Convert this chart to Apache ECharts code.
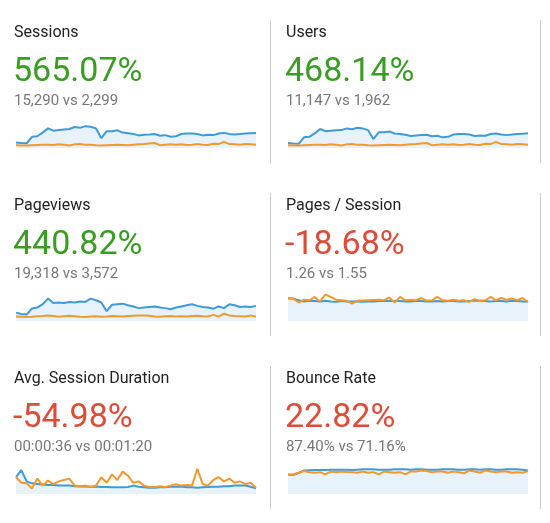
<!DOCTYPE html>
<html><head><meta charset="utf-8">
<script src="https://cdn.jsdelivr.net/npm/echarts@6/dist/echarts.min.js"></script>
<style>html,body{margin:0;padding:0;background:#fff}#c{width:550px;height:523px}</style>
</head><body><div id="c"></div>
<script>
const metricNames = ["Sessions","Users","Pageviews","Pages / Session","Avg. Session Duration","Bounce Rate"];
const changes = ["565.07%","468.14%","440.82%","-18.68%","-54.98%","22.82%"];
const comparisons = ["15,290 vs 2,299","11,147 vs 1,962","19,318 vs 3,572","1.26 vs 1.55","00:00:36 vs 00:01:20","87.40% vs 71.16%"];
const sessionsCur = [20,18,17,40,42,55,70,62,64,66,68,75,72,78,76,70,35,60,60,63,55,53,50,45,47,48,50,44,46,40,42,50,52,52,50,45,47,46,52,54,50,48,50,52,53,54];
const sessionsPrev = [10,9,9,10,11,12,12,11,13,12,9,13,14,12,12,10,9,10,11,12,11,10,12,13,14,16,18,10,12,13,12,13,11,12,14,12,11,15,14,22,14,13,12,14,13,12];
const usersCur = [18,16,15,38,40,52,68,60,62,63,64,70,67,72,70,64,32,56,56,59,52,50,47,43,45,46,47,42,44,38,40,48,50,50,48,43,45,44,50,52,48,46,48,50,51,53];
const usersPrev = [10,9,9,10,11,12,12,11,13,12,9,13,14,12,12,10,9,10,11,12,11,10,12,13,14,16,18,10,12,13,12,13,11,12,14,12,11,15,14,22,14,13,12,14,13,12];
const pageviewsCur = [30,25,23,45,48,60,80,64,66,64,68,66,70,68,80,74,66,35,58,60,62,56,52,46,48,50,52,48,46,42,48,52,56,60,54,50,48,44,52,46,60,56,50,52,50,54];
const pageviewsPrev = [16,15,14,15,17,18,20,18,15,17,19,17,15,14,16,17,15,16,18,17,16,18,19,20,20,19,16,15,17,18,16,17,16,18,19,17,16,22,16,26,20,18,17,16,20,15];
const ppsCur = [80,80,74,70,72,71,70,72,70,69,71,70,70,70,69,70,70,71,71,72,71,71,70,70,71,71,70,70,71,70,71,71,70,70,71,72,72,71,70,71,71,70,72,71,70,70];
const ppsPrev = [82,80,66,76,74,86,70,94,86,76,74,72,62,72,73,74,75,76,74,84,66,86,74,76,74,82,73,74,86,74,72,76,72,74,68,78,72,74,86,74,82,76,80,74,82,68];
const durCur = [60,85,45,38,36,34,32,32,30,30,30,28,27,27,26,27,25,25,24,24,24,25,30,26,24,22,22,24,24,26,26,27,24,24,22,24,25,26,26,28,28,30,30,30,26,20];
const durPrev = [60,40,38,20,55,30,48,35,45,50,55,30,28,30,25,30,60,40,70,50,80,65,40,45,30,25,25,28,25,30,35,30,32,30,90,35,30,50,60,45,55,40,45,35,40,22];
const bounceCur = [70,68,75,84,85,86,86,86,87,87,87,87,86,87,88,88,88,87,87,87,88,88,88,87,88,88,87,87,87,88,88,88,87,87,88,88,87,88,88,87,87,88,88,88,87,84];
const bouncePrev = [70,70,76,82,78,76,78,70,80,78,80,79,78,76,80,76,78,70,80,78,76,78,70,80,80,84,82,78,80,80,76,80,78,74,84,80,76,84,80,78,80,80,76,78,76,82];
const curSeries = [sessionsCur,usersCur,pageviewsCur,ppsCur,durCur,bounceCur];
const prevSeries = [sessionsPrev,usersPrev,pageviewsPrev,ppsPrev,durPrev,bouncePrev];
const yMax = [100,100,100,100,100,100];

const chart = echarts.init(document.getElementById('c'));
const title=[], grid=[], xAxis=[], yAxis=[], series=[], graphic=[];
const colX=[14,286], rowY=[0,173,346];
for(let i=0;i<6;i++){
  const col=i%2,row=Math.floor(i/2),x=colX[col],y=rowY[row];
  const good = i<3;
  title.push({text:metricNames[i],left:x-5,top:y+20,textStyle:{fontSize:16,fontWeight:'normal',color:'#222',fontFamily:'Roboto'}});
  title.push({text:changes[i],left:x-6,top:y+50,textStyle:{fontSize:34,fontWeight:'normal',color:good?'#3a9d23':'#dd4b39',fontFamily:'Roboto'}});
  title.push({text:comparisons[i],left:x-5,top:y+89,textStyle:{fontSize:15,fontWeight:'normal',color:'#777',fontFamily:'Roboto'}});
  grid.push({left:x+2,top:y+120,width:240,height:28});
  xAxis.push({type:'category',gridIndex:i,show:false,boundaryGap:false,data:curSeries[i].map((_,k)=>k)});
  yAxis.push({type:'value',gridIndex:i,show:false,min:0,max:yMax[i]});
  series.push({type:'line',xAxisIndex:i,yAxisIndex:i,data:curSeries[i],symbol:'none',lineStyle:{color:'#3f9bd8',width:2},areaStyle:{color:'#e8f2fb',opacity:1},z:2});
  series.push({type:'line',xAxisIndex:i,yAxisIndex:i,data:prevSeries[i],symbol:'none',lineStyle:{color:'#f2992b',width:2},z:3});
}
for(const r of rowY){
  graphic.push({type:'rect',shape:{x:270,y:r+20,width:1,height:143},style:{fill:'#ccc'}});
  graphic.push({type:'rect',shape:{x:540,y:r+20,width:1,height:143},style:{fill:'#ccc'}});
}
chart.setOption({animation:false,title,grid,xAxis,yAxis,series,graphic});
</script></body></html>
